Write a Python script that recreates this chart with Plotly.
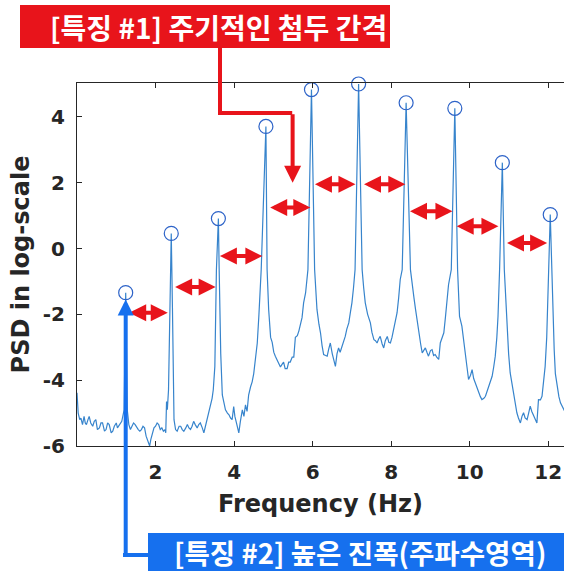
import plotly.graph_objects as go

# ---------------- data ----------------
freq = [
    0.00, 0.03, 0.07, 0.10, 0.14, 0.18, 0.21, 0.24, 0.28, 0.31, 0.35, 0.40, 0.44, 0.48, 0.52, 0.57,
    0.61, 0.65, 0.70, 0.74, 0.78, 0.82, 0.87, 0.91, 0.95, 1.00, 1.03, 1.06, 1.10, 1.14, 1.20, 1.24,
    1.28, 1.32, 1.36, 1.40, 1.44, 1.48, 1.52, 1.56, 1.60, 1.64, 1.68, 1.72, 1.76, 1.80, 1.85, 1.88,
    1.92, 1.96, 2.00, 2.04, 2.08, 2.12, 2.16, 2.20, 2.24, 2.26, 2.28, 2.30, 2.33, 2.36, 2.40, 2.43,
    2.45, 2.47, 2.51, 2.55, 2.60, 2.64, 2.68, 2.72, 2.77, 2.81, 2.85, 2.89, 2.93, 2.97, 3.01, 3.06,
    3.10, 3.14, 3.19, 3.23, 3.27, 3.31, 3.36, 3.40, 3.44, 3.47, 3.51, 3.55, 3.60, 3.62, 3.66, 3.70,
    3.74, 3.78, 3.83, 3.87, 3.91, 3.95, 3.99, 4.02, 4.06, 4.10, 4.12, 4.16, 4.21, 4.25, 4.29, 4.33,
    4.37, 4.42, 4.46, 4.50, 4.54, 4.59, 4.63, 4.69, 4.81, 4.84, 4.88, 4.93, 4.97, 5.01, 5.05, 5.10,
    5.14, 5.18, 5.22, 5.26, 5.30, 5.35, 5.39, 5.43, 5.48, 5.52, 5.56, 5.61, 5.65, 5.69, 5.73, 5.77,
    5.82, 5.88, 5.97, 6.05, 6.08, 6.11, 6.16, 6.20, 6.24, 6.28, 6.33, 6.37, 6.41, 6.45, 6.50, 6.54,
    6.58, 6.62, 6.66, 6.70, 6.75, 6.79, 6.83, 6.87, 6.92, 6.96, 7.00, 7.04, 7.08, 7.17, 7.26, 7.30,
    7.34, 7.40, 7.47, 7.51, 7.56, 7.60, 7.64, 7.68, 7.72, 7.77, 7.81, 7.85, 7.90, 7.94, 7.98, 8.02,
    8.06, 8.10, 8.15, 8.19, 8.23, 8.28, 8.38, 8.49, 8.53, 8.58, 8.62, 8.66, 8.70, 8.75, 8.79, 8.83,
    8.87, 8.91, 8.95, 9.00, 9.04, 9.08, 9.12, 9.16, 9.21, 9.25, 9.29, 9.34, 9.38, 9.42, 9.46, 9.53,
    9.62, 9.69, 9.74, 9.80, 9.84, 9.89, 9.93, 9.97, 10.02, 10.06, 10.10, 10.14, 10.19, 10.23, 10.27, 10.31,
    10.36, 10.40, 10.44, 10.48, 10.53, 10.57, 10.61, 10.65, 10.69, 10.72, 10.76, 10.83, 10.88, 10.92, 10.95, 10.99,
    11.03, 11.07, 11.12, 11.16, 11.20, 11.24, 11.29, 11.33, 11.37, 11.41, 11.46, 11.50, 11.54, 11.58, 11.63, 11.67,
    11.71, 11.75, 11.80, 11.84, 11.88, 11.92, 11.96, 11.98, 12.01, 12.05, 12.09, 12.12, 12.15, 12.18, 12.22, 12.27,
    12.31, 12.35, 12.39, 12.42,
]
psd = [
    -4.38, -5.00, -5.20, -5.15, -5.35, -5.10, -5.30, -5.35, -5.20, -5.10, -5.30, -5.40, -5.25, -5.20, -5.50, -5.45,
    -5.30, -5.30, -5.55, -5.50, -5.30, -5.35, -5.60, -5.55, -5.40, -5.30, -5.45, -5.40, -5.30, -5.25, -4.90, -1.34,
    -4.90, -5.35, -5.50, -5.40, -5.30, -5.35, -5.45, -5.50, -5.55, -5.50, -5.40, -5.45, -5.70, -5.85, -6.00, -5.80,
    -5.60, -5.45, -5.40, -5.30, -5.35, -5.50, -5.45, -5.55, -5.50, -5.60, -4.65, -4.90, -4.30, -2.00, 0.46, -1.80,
    -4.00, -5.20, -5.50, -5.55, -5.40, -5.40, -5.50, -5.55, -5.45, -5.35, -5.45, -5.50, -5.40, -5.25, -5.35, -5.45,
    -5.35, -5.30, -5.45, -5.60, -5.40, -5.20, -5.00, -4.80, -4.55, -4.29, -3.58, -0.64, 0.91, -0.64, -3.20, -4.45,
    -4.70, -4.90, -5.00, -5.05, -5.15, -5.20, -4.80, -5.10, -5.30, -5.50, -5.60, -5.25, -4.90, -5.10, -4.75, -4.95,
    -4.45, -4.20, -4.05, -3.80, -3.30, -2.87, -2.06, -0.64, 3.71, -0.64, -1.85, -2.70, -2.85, -3.15, -3.27, -3.40,
    -3.55, -3.60, -3.52, -3.45, -3.65, -3.65, -3.45, -3.45, -3.30, -3.30, -2.70, -2.65, -2.50, -2.26, -2.10, -1.65,
    -1.35, -0.64, 4.83, -0.64, -1.20, -1.85, -2.30, -2.56, -2.95, -3.22, -3.25, -3.27, -3.05, -2.87, -3.20, -3.37,
    -3.58, -3.20, -3.02, -3.15, -2.97, -2.85, -2.67, -2.45, -2.26, -1.95, -1.65, -1.20, -0.64, 5.00, -0.64, -1.20,
    -1.65, -2.00, -2.26, -2.55, -2.77, -2.80, -2.87, -2.75, -2.67, -2.90, -3.02, -2.80, -2.67, -2.85, -2.87, -2.70,
    -2.46, -2.20, -1.95, -1.50, -0.94, -0.64, 4.43, -0.64, -1.10, -1.50, -1.85, -2.20, -2.56, -2.90, -3.17, -3.10,
    -3.02, -3.15, -3.27, -3.10, -3.07, -3.25, -3.22, -3.30, -3.37, -2.87, -2.75, -2.56, -2.10, -1.65, -1.10, -0.64,
    4.26, -0.64, -2.06, -2.36, -2.80, -3.27, -3.60, -3.98, -3.85, -3.68, -3.95, -4.08, -4.25, -4.39, -4.50, -4.59,
    -4.55, -4.49, -4.35, -4.19, -4.05, -3.88, -3.60, -3.27, -2.70, -2.06, -0.64, 2.61, -0.64, -1.60, -2.56, -3.20,
    -3.78, -4.10, -4.39, -4.70, -4.99, -5.15, -5.30, -5.10, -4.99, -5.15, -5.20, -5.00, -4.79, -4.95, -5.10, -5.20,
    -5.30, -4.59, -4.60, -4.49, -4.10, -3.58, -2.70, -2.06, -0.64, 1.03, -0.80, -2.20, -3.07, -3.80, -4.19, -4.50,
    -4.69, -4.80, -4.89, -4.95,
]

peak_freq = [1.24, 2.40, 3.60, 4.81, 5.97, 7.17, 8.38, 9.62, 10.83, 12.05]
peak_psd = [-1.34, 0.46, 0.91, 3.71, 4.83, 5.00, 4.43, 4.26, 2.61, 1.03]

# double arrows between neighbouring peaks (start Hz, end Hz, level)
gap_start = [1.29, 2.46, 3.60, 4.88, 6.02, 7.27, 8.44, 9.63, 10.91]
gap_end = [2.31, 3.53, 4.72, 5.94, 7.09, 8.36, 9.56, 10.73, 11.97]
gap_level = [-1.95, -1.17, -0.23, 1.25, 1.95, 1.95, 1.13, 0.68, 0.17]

x_ticks = [2, 4, 6, 8, 10, 12]
x_ticktext = ["2", "4", "6", "8", "10", "12"]
y_ticks = [-6, -4, -2, 0, 2, 4]
y_ticktext = ["-6", "-4", "-2", "0", "2", "4"]

label1 = "[특징 #1] 주기적인 첨두 간격"
label2 = "[특징 #2] 높은 진폭(주파수영역)"

RED = "#E8141B"
BLUE = "#1670EE"
AX = "#262626"
KFONT = "Noto Sans CJK KR"
LFONT = "DejaVu Sans"

# ---------------- figure ----------------
W, H = 564, 571
ML, MT, MB = 77, 83, 125
PW, PH = W - ML, H - MT - MB


def px(xp):
    return (xp - ML) / PW


def py(yp):
    return (H - MB - yp) / PH


fig = go.Figure()
fig.add_trace(go.Scatter(
    x=freq, y=psd, mode="lines",
    line=dict(color="#3784CC", width=1.2),
    hoverinfo="skip", showlegend=False,
))
fig.add_trace(go.Scatter(
    x=peak_freq, y=peak_psd, mode="markers",
    marker=dict(symbol="circle-open", size=14, color="#2D63C8", line=dict(width=1.2)),
    cliponaxis=False, hoverinfo="skip", showlegend=False,
))

annotations = []
for s, e, lv in zip(gap_start, gap_end, gap_level):
    annotations.append(dict(
        x=e, y=lv, ax=s, ay=lv, xref="x", yref="y", axref="x", ayref="y",
        text="", showarrow=True, arrowhead=2, arrowside="end+start",
        arrowsize=0.85, arrowwidth=4, arrowcolor=RED,
    ))

# feature 1 connector arrow (final vertical segment)
annotations.append(dict(
    x=5.49, y=2.0, xref="x", yref="y", ax=0, ay=-70, text="", showarrow=True,
    arrowhead=2, arrowsize=0.85, arrowwidth=4, arrowcolor=RED,
))
# feature 2 arrow to the first peak
annotations.append(dict(
    x=peak_freq[0], y=-1.55, xref="x", yref="y", ax=0, ay=255, text="", showarrow=True,
    arrowhead=2, arrowsize=0.8, arrowwidth=4, arrowcolor=BLUE,
))
# label texts
annotations.append(dict(
    x=px(218), y=py(27), xref="paper", yref="paper", text=label1, showarrow=False,
    font=dict(family=KFONT, size=28, color="white", weight="bold"),
    xanchor="center", yanchor="middle",
))
annotations.append(dict(
    x=px(360), y=py(552), xref="paper", yref="paper", text=label2, showarrow=False,
    font=dict(family=KFONT, size=27.6, color="white", weight="bold"),
    xanchor="center", yanchor="middle",
))

shapes = [
    dict(type="rect", xref="paper", yref="paper", x0=px(20), x1=px(390), y0=py(5), y1=py(48),
         fillcolor=RED, line=dict(width=0), layer="below"),
    dict(type="path", xref="paper", yref="paper",
         path=f"M {px(220)},{py(47)} L {px(220)},{py(113)} L {px(292.2)},{py(113)}",
         line=dict(color=RED, width=4)),
    dict(type="rect", xref="paper", yref="paper", x0=px(148), x1=1.02, y0=py(533), y1=py(575),
         fillcolor=BLUE, line=dict(width=0), layer="below"),
    dict(type="line", xref="paper", yref="paper", x0=px(123), x1=px(149), y0=py(555), y1=py(555),
         line=dict(color=BLUE, width=4)),
]

fig.update_layout(
    width=W, height=H,
    margin=dict(l=ML, r=0, t=MT, b=MB, pad=0),
    paper_bgcolor="white", plot_bgcolor="white",
    annotations=annotations, shapes=shapes,
    showlegend=False,
)
fig.update_xaxes(
    range=[0, 12.4], tickvals=x_ticks, ticktext=x_ticktext,
    ticks="inside", ticklen=5, tickwidth=1, tickcolor=AX,
    showline=True, linecolor=AX, linewidth=1, mirror="ticks",
    showgrid=False, zeroline=False,
    tickfont=dict(family=LFONT, size=20, color=AX, weight="bold"),
    ticklabelstandoff=8,
    title=dict(text="Frequency (Hz)", standoff=12,
               font=dict(family=LFONT, size=24, color=AX, weight="bold")),
)
fig.update_yaxes(
    range=[-6, 5.03], tickvals=y_ticks, ticktext=y_ticktext,
    ticks="inside", ticklen=5, tickwidth=1, tickcolor=AX,
    showline=True, linecolor=AX, linewidth=1, mirror=False,
    showgrid=False, zeroline=False,
    tickfont=dict(family=LFONT, size=20, color=AX, weight="bold"),
    ticklabelstandoff=7,
    title=dict(text="PSD in log-scale", standoff=6,
               font=dict(family=LFONT, size=24, color=AX, weight="bold")),
)

fig.write_html("out.html")
